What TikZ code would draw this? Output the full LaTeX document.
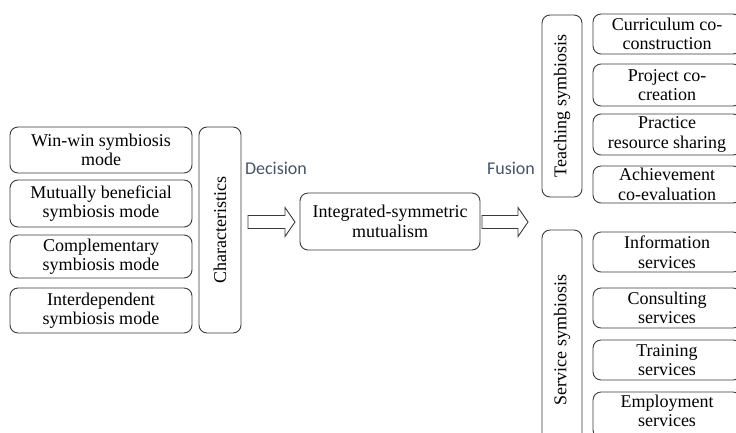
\documentclass[tikz,border=0pt]{standalone}
\usepackage{fontspec}
\setmainfont{Liberation Serif}
\newfontfamily\labelfont{Carlito}
\definecolor{lbl}{HTML}{44546A}
\definecolor{edge}{HTML}{3A3A3A}
\begin{document}
\begin{tikzpicture}[x=1pt,y=-1pt,
  txt/.style={font=\fontsize{18}{19.5}\selectfont, text=black, align=center, inner sep=0pt},
  rbox/.style={txt, draw=edge, line width=0.9pt, rounded corners=8pt},
  vbox/.style={rbox, rotate=90},
  lab/.style={font=\labelfont\fontsize{18}{20}\selectfont, text=lbl, inner sep=0pt},
  harrow/.style={draw=edge, line width=0.9pt, line join=miter, fill=white}
]
\useasboundingbox (0,0) rectangle (736,432);
\clip (0,0) rectangle (736,432);
% left column
\node[rbox, minimum width=182pt, minimum height=46pt] (b1) at (101,150) {Win-win symbiosis\\mode};
\node[rbox, minimum width=182pt, minimum height=47pt] (b2) at (101,203.5) {Mutually beneficial\\symbiosis mode};
\node[rbox, minimum width=182pt, minimum height=43pt] (b3) at (101,256.5) {Complementary\\symbiosis mode};
\node[rbox, minimum width=182pt, minimum height=45pt] (b4) at (101,310.5) {Interdependent\\symbiosis mode};
\node[vbox, minimum width=206pt, minimum height=42pt] (ch) at (220,230) {Characteristics};
% labels
\node[lab] (dec) at (276,168) {Decision};
\node[lab] (fus) at (511,168) {Fusion};
% middle
\node[rbox, minimum width=180pt, minimum height=57pt] (mid) at (390,221.5) {Integrated-symmetric\\mutualism};
% block arrows
\coordinate (a1s) at (248,222);
\coordinate (a1e) at (295,222);
\coordinate (a2s) at (482,222);
\coordinate (a2e) at (528,222);
\draw[harrow] ([yshift=-6.5pt]a1s) -- ([xshift=-10pt,yshift=-6.5pt]a1e) -- ([xshift=-10pt,yshift=-14.5pt]a1e)
  -- (a1e) -- ([xshift=-10pt,yshift=14.5pt]a1e) -- ([xshift=-10pt,yshift=6.5pt]a1e) -- ([yshift=6.5pt]a1s) -- cycle;
\draw[harrow] ([yshift=-6.5pt]a2s) -- ([xshift=-10pt,yshift=-6.5pt]a2e) -- ([xshift=-10pt,yshift=-14.5pt]a2e)
  -- (a2e) -- ([xshift=-10pt,yshift=14.5pt]a2e) -- ([xshift=-10pt,yshift=6.5pt]a2e) -- ([yshift=6.5pt]a2s) -- cycle;
% teaching
\node[vbox, minimum width=182pt, minimum height=40pt] (teach) at (562,106) {Teaching symbiosis};
\node[rbox, minimum width=148pt, minimum height=40pt] (t1) at (667,34) {Curriculum co-\\construction};
\node[rbox, minimum width=148pt, minimum height=42pt] (t2) at (667,85) {Project co-\\creation};
\node[rbox, minimum width=148pt, minimum height=41pt] (t3) at (667,134.5) {Practice\\resource sharing};
\node[rbox, minimum width=148pt, minimum height=37pt] (t4) at (667,184.5) {Achievement\\co-evaluation};
% service
\node[vbox, minimum width=220pt, minimum height=40pt] (serv) at (562,340) {Service symbiosis};
\node[rbox, minimum width=148pt, minimum height=40pt] (s1) at (667,252) {Information\\services};
\node[rbox, minimum width=148pt, minimum height=40pt] (s2) at (667,308) {Consulting\\services};
\node[rbox, minimum width=148pt, minimum height=40pt] (s3) at (667,360) {Training\\services};
\node[rbox, minimum width=148pt, minimum height=46pt] (s4) at (667,415) {};
\node[txt] (s4t) at (667,411) {Employment\\services};
\end{tikzpicture}
\end{document}
